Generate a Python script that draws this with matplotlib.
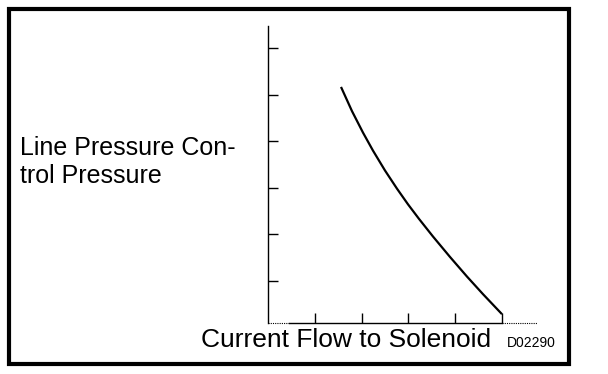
import matplotlib
matplotlib.use("Agg")
import matplotlib.pyplot as plt
from matplotlib.patches import Rectangle

# curve (tick units)
current = [1.556, 1.791, 2.027, 2.241, 2.497, 2.754, 2.989, 3.225,
           3.524, 3.888, 4.251, 4.594, 5.000]
pressure = [5.163, 4.644, 4.182, 3.796, 3.371, 2.981, 2.646, 2.333,
            1.955, 1.517, 1.097, 0.719, 0.290]

x_ticks = [1, 2, 3, 4, 5]
y_ticks = [1, 2, 3, 4, 5, 6]

x_label = "Current Flow to Solenoid"
y_label = "Line Pressure Con-\ntrol Pressure"
code = "D02290"

W, H = 608, 374
plt.rcParams["font.family"] = ["Liberation Sans", "DejaVu Sans"]

fig = plt.figure(figsize=(W / 100, H / 100), dpi=100)
fig.patch.set_facecolor("white")

ax = fig.add_axes([268.3 / W, 1 - 323 / H, (537 - 268.3) / W, (323 - 26) / H])
ax.plot(current, pressure, color="black", lw=1.6,
        solid_capstyle="butt", solid_joinstyle="round")

ax.set_xlim(0, 5.75)
ax.set_ylim(0.1, 6.47)
ax.set_xticks(x_ticks)
ax.set_yticks(y_ticks)
ax.set_xticklabels([])
ax.set_yticklabels([])
ax.tick_params(direction="in", length=7, width=1, color="black")

for side in ["top", "right"]:
    ax.spines[side].set_visible(False)
ax.spines["left"].set_linewidth(1)
ax.spines["bottom"].set_linewidth(1)
# the x axis is solid only between the first gap and the last tick
ax.spines["bottom"].set_bounds(0.45, 5.0)
ax.plot([0, 0.45], [0.1, 0.1], color="black", lw=0.8, ls=(0, (1, 1)), clip_on=False)
ax.plot([5.0, 5.75], [0.1, 0.1], color="black", lw=0.8, ls=(0, (1, 1)), clip_on=False)
ax.patch.set_alpha(0)

# outer frame
fig.patches.append(Rectangle((9 / W, 1 - 363.5 / H), (569 - 9) / W, (363.5 - 9) / H,
                             transform=fig.transFigure, fill=False,
                             lw=3, edgecolor="black"))

# baseline of a two-line text is the baseline of its last line
fig.text(20 / W, 1 - 183 / H, y_label, fontsize=18, va="baseline", ha="left",
         linespacing=1.2)
fig.text(346 / W, 1 - 347 / H, x_label, fontsize=19, va="baseline", ha="center")
fig.text(507 / W, 1 - 347 / H, code, fontsize=10, va="baseline", ha="left")

fig.savefig("out.png", dpi=100)
